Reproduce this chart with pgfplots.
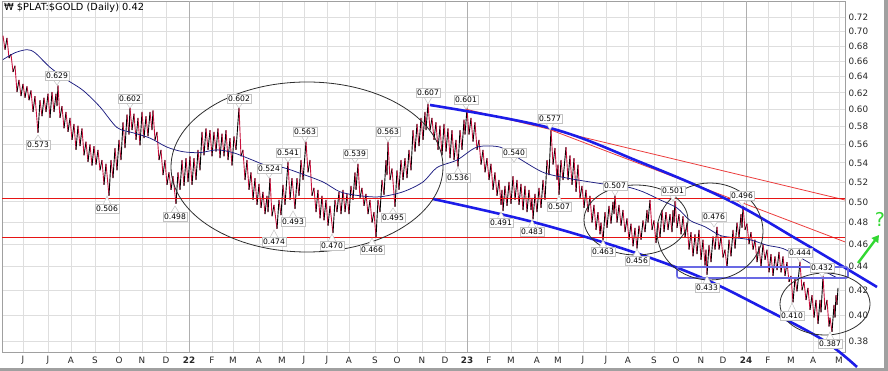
\documentclass[border=0pt]{standalone}
\usepackage{pgfplots}
\pgfplotsset{compat=1.18}
\usepackage{fontspec}
\setmainfont{DejaVu Sans}
\usetikzlibrary{arrows.meta}
\definecolor{manavy}{RGB}{28,28,128}
\definecolor{tlblue}{RGB}{28,28,232}
\definecolor{gridc}{RGB}{222,222,222}
\definecolor{yeargrid}{RGB}{175,175,175}
\definecolor{framec}{RGB}{160,160,160}
\definecolor{lblc}{RGB}{195,195,195}
\definecolor{arrowgreen}{RGB}{50,215,50}
\definecolor{rectblue}{RGB}{105,105,228}
\definecolor{ellc}{RGB}{45,45,45}
\definecolor{supred}{RGB}{230,20,20}
\definecolor{sred}{RGB}{235,60,60}
\tikzset{lbl/.style={draw=lblc, fill=white, line width=0.5pt, inner xsep=1.3pt, inner ysep=1.5pt,
  text height=5.6pt, text depth=0pt, font=\fontsize{7.6}{8}\selectfont}}
\newcommand{\pk}[4]{%
  \filldraw[fill=white, draw=lblc, line width=0.5pt] ({#1-4},{#2+4}) -- (#1,#4) -- ({#1+4},{#2+4});
  \node[lbl] at (#1,#2) {#3};}
\newcommand{\tr}[4]{%
  \filldraw[fill=white, draw=lblc, line width=0.5pt] ({#1-4},{#2-4}) -- (#1,#4) -- ({#1+4},{#2-4});
  \node[lbl] at (#1,#2) {#3};}
\begin{document}
\begin{tikzpicture}[x=1pt,y=1pt]
\begin{axis}[
  at={(2pt,19pt)}, anchor=south west,
  width=843pt, height=351pt, scale only axis,
  xmin=2, xmax=845, ymode=log, ymin=0.37186, ymax=0.7431,
  axis line style={draw=framec, line width=0.8pt},
  xtick={23,48,71,95,119,142,166,212,233,259,282,304,327,349,375,397,422,445,489,511,537,558,583,606,628,654,676,701,723,768,791,813,839},
  xticklabels={J,J,A,S,O,N,D,F,M,A,M,J,J,A,S,O,N,D,F,M,A,M,J,J,A,S,O,N,D,F,M,A,M},
  extra x ticks={189,467,746},
  extra x tick labels={\textbf{22},\textbf{23},\textbf{24}},
  extra x tick style={grid=major, major grid style={yeargrid, line width=0.8pt}},
  ytick={0.38,0.40,0.42,0.44,0.46,0.48,0.50,0.52,0.54,0.56,0.58,0.60,0.62,0.64,0.66,0.68,0.70,0.72},
  yticklabels={0.38,0.40,0.42,0.44,0.46,0.48,0.50,0.52,0.54,0.56,0.58,0.60,0.62,0.64,0.66,0.68,0.70,0.72},
  yticklabel pos=right,
  major tick length=0pt, minor tick length=0pt,
  grid=major, major grid style={gridc, line width=0.8pt},
  tick label style={font=\fontsize{8.8}{9}\selectfont, text=black!85},
  xticklabel style={anchor=center, yshift=-8pt},
  /pgf/number format/assume math mode=true,
  clip=false,
]
% price (alternating high/low readings)
\addplot[mesh, shader=flat corner, line width=0.9pt,
  point meta={mod(\coordindex,2)}, point meta min=0, point meta max=1,
  colormap={bars}{rgb255=(200,16,60) rgb255=(0,0,0)}] table[row sep=\\] {
x y\\
3 0.694\\ 5 0.675\\ 7 0.691\\ 9 0.664\\ 11 0.669\\ 13 0.646\\ 15 0.654\\ 17 0.621\\ 19 0.636\\ 21 0.616\\
23 0.631\\ 25 0.614\\ 27 0.628\\ 29 0.611\\ 31 0.623\\ 33 0.597\\ 35 0.616\\ 38 0.573\\ 40 0.611\\ 42 0.592\\
44 0.614\\ 46 0.597\\ 48 0.619\\ 50 0.590\\ 52 0.621\\ 54 0.597\\ 56 0.619\\ 57 0.604\\ 58 0.629\\ 60 0.590\\
62 0.604\\ 64 0.578\\ 66 0.597\\ 68 0.574\\ 70 0.590\\ 72 0.565\\ 74 0.583\\ 76 0.554\\ 78 0.581\\ 80 0.558\\
82 0.578\\ 84 0.548\\ 86 0.563\\ 88 0.541\\ 90 0.560\\ 92 0.537\\ 94 0.558\\ 96 0.538\\ 98 0.554\\ 100 0.532\\
102 0.543\\ 104 0.517\\ 106 0.539\\ 109 0.506\\ 111 0.543\\ 113 0.524\\ 115 0.556\\ 117 0.532\\ 119 0.565\\ 121 0.543\\
123 0.585\\ 125 0.556\\ 127 0.594\\ 129 0.571\\ 130 0.602\\ 132 0.576\\ 134 0.595\\ 136 0.565\\ 138 0.590\\ 140 0.559\\
142 0.597\\ 144 0.567\\ 146 0.592\\ 148 0.569\\ 150 0.597\\ 152 0.576\\ 153 0.599\\ 155 0.565\\ 157 0.574\\ 159 0.543\\
161 0.554\\ 163 0.527\\ 165 0.543\\ 167 0.517\\ 169 0.530\\ 171 0.512\\ 173 0.526\\ 176 0.498\\ 178 0.530\\ 180 0.512\\
182 0.543\\ 184 0.516\\ 186 0.545\\ 188 0.520\\ 190 0.547\\ 192 0.517\\ 194 0.545\\ 196 0.522\\ 198 0.554\\ 200 0.532\\
202 0.574\\ 204 0.548\\ 206 0.578\\ 208 0.554\\ 210 0.576\\ 212 0.547\\ 214 0.574\\ 216 0.552\\ 218 0.578\\ 220 0.545\\
222 0.572\\ 224 0.547\\ 226 0.576\\ 228 0.543\\ 230 0.567\\ 232 0.537\\ 234 0.569\\ 236 0.554\\ 239 0.602\\ 241 0.547\\
243 0.554\\ 245 0.522\\ 247 0.543\\ 249 0.512\\ 251 0.530\\ 253 0.502\\ 255 0.524\\ 257 0.497\\ 259 0.518\\ 261 0.494\\
263 0.510\\ 265 0.488\\ 267 0.506\\ 268 0.490\\ 270 0.524\\ 272 0.486\\ 274 0.497\\ 277 0.474\\ 279 0.502\\ 281 0.487\\
283 0.517\\ 285 0.497\\ 288 0.541\\ 290 0.502\\ 292 0.524\\ 295 0.493\\ 297 0.524\\ 299 0.506\\ 301 0.543\\ 303 0.522\\
306 0.563\\ 308 0.530\\ 310 0.543\\ 312 0.506\\ 314 0.514\\ 316 0.490\\ 318 0.512\\ 320 0.484\\ 322 0.506\\ 324 0.482\\
326 0.502\\ 328 0.477\\ 330 0.496\\ 333 0.470\\ 335 0.502\\ 337 0.490\\ 339 0.510\\ 341 0.488\\ 343 0.512\\ 345 0.490\\
347 0.508\\ 349 0.488\\ 351 0.516\\ 353 0.502\\ 355 0.530\\ 356 0.512\\ 358 0.539\\ 360 0.504\\ 362 0.514\\ 364 0.496\\
366 0.508\\ 368 0.488\\ 370 0.502\\ 372 0.480\\ 374 0.490\\ 376 0.466\\ 378 0.502\\ 380 0.490\\ 382 0.522\\ 384 0.507\\
386 0.543\\ 387 0.527\\ 388 0.563\\ 390 0.522\\ 392 0.534\\ 395 0.495\\ 397 0.532\\ 399 0.512\\ 401 0.543\\ 403 0.522\\
405 0.545\\ 407 0.524\\ 409 0.554\\ 411 0.532\\ 413 0.576\\ 415 0.552\\ 417 0.583\\ 419 0.558\\ 421 0.590\\ 423 0.565\\
425 0.597\\ 426 0.576\\ 428 0.607\\ 430 0.576\\ 432 0.590\\ 434 0.565\\ 436 0.585\\ 438 0.554\\ 440 0.581\\ 442 0.548\\
444 0.583\\ 446 0.552\\ 448 0.578\\ 450 0.545\\ 452 0.576\\ 454 0.543\\ 456 0.565\\ 458 0.536\\ 460 0.576\\ 462 0.554\\
464 0.588\\ 465 0.571\\ 467 0.601\\ 469 0.571\\ 471 0.590\\ 473 0.563\\ 475 0.585\\ 477 0.554\\ 479 0.565\\ 481 0.538\\
483 0.554\\ 485 0.530\\ 487 0.545\\ 489 0.522\\ 491 0.539\\ 493 0.512\\ 495 0.530\\ 497 0.506\\ 499 0.522\\ 501 0.497\\
502 0.512\\ 503 0.491\\ 505 0.516\\ 507 0.496\\ 509 0.520\\ 511 0.498\\ 513 0.526\\ 515 0.502\\ 517 0.522\\ 519 0.497\\
521 0.518\\ 523 0.492\\ 525 0.516\\ 527 0.490\\ 529 0.512\\ 531 0.492\\ 532 0.504\\ 533 0.483\\ 535 0.508\\ 537 0.490\\
539 0.514\\ 541 0.494\\ 543 0.522\\ 545 0.502\\ 547 0.543\\ 549 0.527\\ 551 0.577\\ 553 0.538\\ 555 0.556\\ 557 0.522\\
558 0.538\\ 559 0.507\\ 561 0.543\\ 563 0.522\\ 566 0.557\\ 568 0.522\\ 570 0.548\\ 572 0.517\\ 574 0.545\\ 576 0.510\\
578 0.538\\ 580 0.504\\ 582 0.516\\ 584 0.494\\ 586 0.512\\ 588 0.490\\ 590 0.506\\ 592 0.480\\ 594 0.497\\ 596 0.473\\
598 0.490\\ 600 0.469\\ 601 0.480\\ 603 0.463\\ 605 0.490\\ 607 0.475\\ 609 0.496\\ 611 0.479\\ 613 0.500\\ 614 0.488\\
615 0.507\\ 617 0.480\\ 619 0.497\\ 621 0.477\\ 623 0.492\\ 625 0.471\\ 627 0.484\\ 629 0.464\\ 631 0.479\\ 633 0.458\\
635 0.475\\ 637 0.456\\ 639 0.477\\ 641 0.464\\ 643 0.482\\ 645 0.471\\ 647 0.492\\ 648 0.480\\ 650 0.502\\ 652 0.473\\
654 0.482\\ 656 0.461\\ 658 0.480\\ 660 0.466\\ 662 0.492\\ 664 0.471\\ 666 0.490\\ 668 0.473\\ 670 0.488\\ 672 0.471\\
673 0.492\\ 674 0.480\\ 675 0.501\\ 677 0.475\\ 679 0.488\\ 681 0.469\\ 683 0.486\\ 685 0.466\\ 687 0.480\\ 689 0.455\\
691 0.471\\ 693 0.449\\ 695 0.469\\ 697 0.451\\ 699 0.473\\ 701 0.446\\ 703 0.464\\ 705 0.441\\ 706 0.455\\ 707 0.433\\
709 0.459\\ 711 0.444\\ 713 0.467\\ 715 0.455\\ 717 0.476\\ 719 0.455\\ 721 0.467\\ 723 0.448\\ 725 0.455\\ 727 0.439\\
729 0.464\\ 731 0.449\\ 733 0.473\\ 735 0.456\\ 737 0.480\\ 739 0.466\\ 741 0.488\\ 742 0.475\\ 743 0.496\\ 745 0.473\\
747 0.479\\ 749 0.460\\ 751 0.471\\ 753 0.455\\ 755 0.464\\ 757 0.444\\ 759 0.458\\ 761 0.440\\ 763 0.460\\ 765 0.446\\
767 0.455\\ 769 0.435\\ 771 0.451\\ 773 0.432\\ 775 0.449\\ 777 0.437\\ 779 0.453\\ 781 0.435\\ 783 0.449\\ 785 0.432\\
787 0.444\\ 789 0.427\\ 791 0.432\\ 793 0.410\\ 795 0.430\\ 797 0.419\\ 800 0.444\\ 802 0.420\\ 804 0.427\\ 806 0.412\\
808 0.422\\ 810 0.404\\ 812 0.416\\ 814 0.398\\ 816 0.412\\ 818 0.393\\ 820 0.412\\ 821 0.402\\ 823 0.432\\ 825 0.404\\
827 0.412\\ 829 0.391\\ 830 0.398\\ 832 0.387\\ 834 0.408\\ 835 0.398\\ 836 0.416\\ 837 0.408\\ 838 0.422\\
};
% moving average
\addplot[draw=manavy, line width=0.75pt, smooth] coordinates {
(3,0.662) (15,0.671) (27,0.675) (35,0.671) (50,0.652) (67,0.636) (83,0.623) (100,0.603)
(117,0.579) (133,0.573) (150,0.567) (167,0.557) (183,0.552) (200,0.551) (217,0.554) (233,0.551)
(250,0.544) (267,0.537) (283,0.535) (300,0.529) (323,0.520) (340,0.510) (360,0.506) (380,0.505)
(403,0.510) (423,0.520) (437,0.535) (457,0.543) (477,0.557) (500,0.557) (517,0.546) (543,0.530)
(567,0.524) (590,0.520) (610,0.517) (627,0.515) (643,0.510) (660,0.502) (677,0.494) (690,0.482)
(705,0.476) (720,0.468) (733,0.466) (750,0.464) (767,0.459) (783,0.456) (800,0.448) (820,0.438) (838,0.430)};
% sloped red lines
\addplot[draw=sred, line width=0.8pt] coordinates {(465,0.6005) (845,0.5018)};
\addplot[draw=sred, line width=0.8pt] coordinates {(551,0.5761) (845,0.4620)};
\end{axis}
\begin{scope}[shift={(0,371)}, yscale=-1]
% horizontal support lines (0.503 and 0.466)
\draw[supred, line width=1pt] (2,198.5) -- (845,198.5);
\draw[supred, line width=1.25pt] (2,237.2) -- (845,237.2);
% blue trend curves
\draw[tlblue, line width=2.6pt] plot[smooth, tension=0.6] coordinates {(430,105) (550,128) (640,162) (728,200) (800,241) (877,287)};
\draw[tlblue, line width=2.6pt] plot[smooth, tension=0.6] coordinates {(433,199) (533,222) (627,250) (700,277) (767,310) (823,340) (857,367)};
% support band
\draw[rectblue, line width=1.6pt, rounded corners=2pt] (677,267) rectangle (848,278);
% ellipses
\draw[ellc, line width=0.8pt] (307,167) ellipse [x radius=136, y radius=85];
\draw[ellc, line width=0.8pt] (636,220) ellipse [x radius=52, y radius=35];
\draw[ellc, line width=0.8pt] (710,231.5) ellipse [x radius=53, y radius=48.5];
\draw[ellc, line width=0.8pt] (825,304) ellipse [x radius=45, y radius=31];
% green arrow and question mark
\draw[arrowgreen, line width=2.4pt, -{Triangle[length=7pt,width=8pt]}] (858,263) -- (879,235);
\node[text=arrowgreen, font=\fontsize{19}{19}\selectfont] at (880,219) {?};
% value labels
\pk{57}{75.5}{0.629}{85}
\pk{130}{98.5}{0.602}{108}
\pk{239}{98.5}{0.602}{108}
\pk{269}{168.5}{0.524}{178}
\pk{288}{153}{0.541}{162}
\pk{305}{131.5}{0.563}{142}
\pk{355}{153.5}{0.539}{163}
\pk{388}{131.5}{0.563}{142}
\pk{428}{93}{0.607}{104}
\pk{466}{99.5}{0.601}{109}
\pk{550}{119}{0.577}{130}
\pk{514}{152.5}{0.540}{162}
\pk{615}{185.5}{0.507}{196}
\pk{673}{190.5}{0.501}{201}
\pk{714}{217}{0.476}{227}
\pk{742}{196}{0.496}{206}
\pk{800}{252.5}{0.444}{262}
\pk{822}{267.5}{0.432}{277}
\tr{38}{145}{0.573}{135}
\tr{107}{209}{0.506}{196}
\tr{175}{216.5}{0.498}{206}
\tr{293}{222}{0.493}{211}
\tr{274}{241.5}{0.474}{230}
\tr{332}{245.5}{0.470}{234}
\tr{393}{218}{0.495}{208}
\tr{372}{249.5}{0.466}{238}
\tr{458}{178}{0.536}{167}
\tr{501}{223}{0.491}{212}
\tr{532}{231.5}{0.483}{220}
\tr{559}{207}{0.507}{196}
\tr{603}{252}{0.463}{240}
\tr{637}{260.5}{0.456}{249}
\tr{707}{287.5}{0.433}{276}
\tr{792}{315.5}{0.410}{303}
\tr{830}{343.5}{0.387}{332}
% title
\node[anchor=west, font=\fontsize{9.8}{11}\selectfont, inner sep=0pt] at (4,7.5) {₩ \$PLAT:\$GOLD (Daily) 0.42};
\end{scope}
% outer frame
\fill[framec] (0,0) rectangle (888,3.3);
\fill[framec] (884,0) rectangle (888,371);
\pgfresetboundingbox
\path (0,0) rectangle (888,371);
\end{tikzpicture}
\end{document}
